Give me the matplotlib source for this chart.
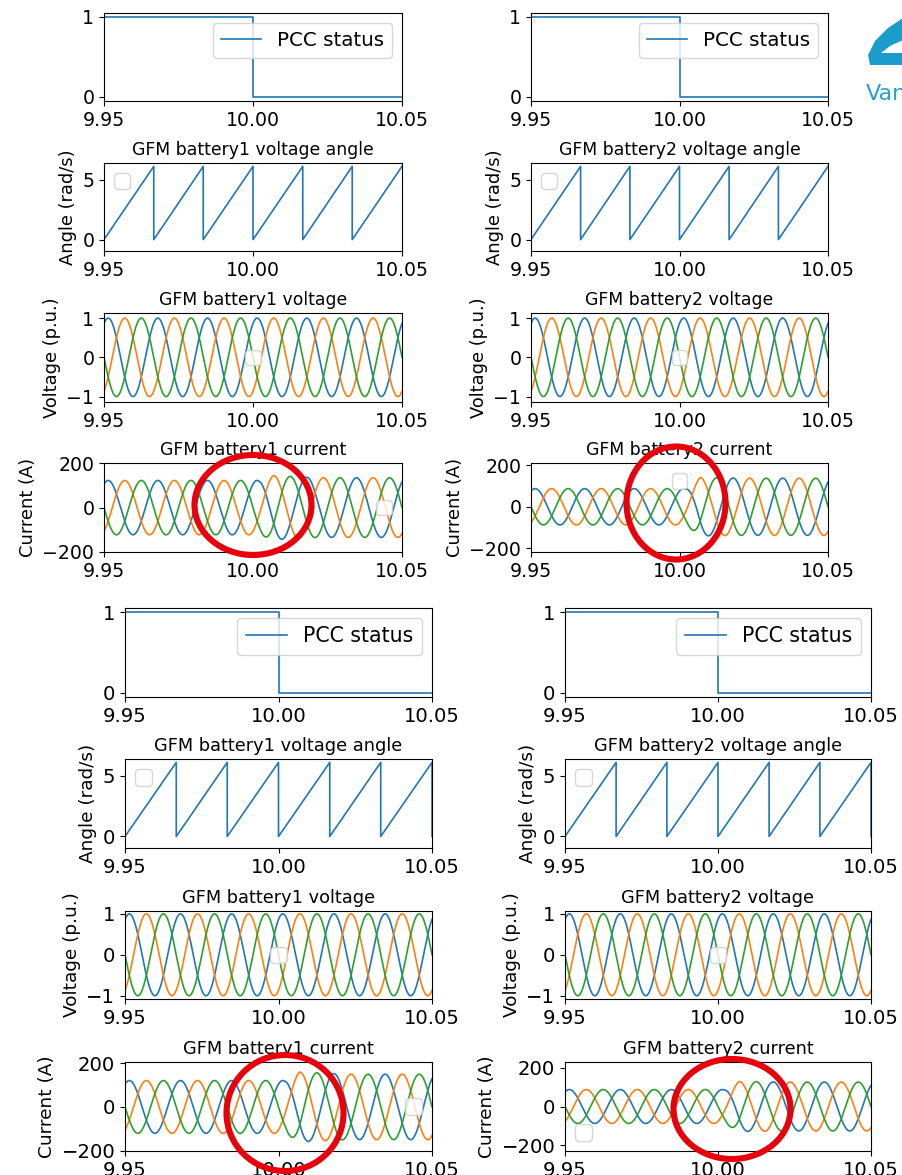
import numpy as np
import matplotlib
matplotlib.use("Agg")
import matplotlib.pyplot as plt
from matplotlib.patches import Ellipse, Polygon
import warnings

warnings.filterwarnings("ignore")

# ---------------- data ----------------
x_limits = [9.95, 10.05]
x_ticks = [9.95, 10.00, 10.05]
x_ticklabels = ["9.95", "10.00", "10.05"]

pcc_t = [9.95, 10.00, 10.00, 10.05]
pcc_status = [1, 1, 0, 0]

# sawtooth voltage angle (vertices)
angle_t_set1 = [9.95, 9.9667, 9.9667, 9.9833, 9.9833, 10.0, 10.0, 10.0167, 10.0167,
                10.0333, 10.0333, 10.05]
angle_v_set1 = [0.0, 6.1, 0.0, 6.1, 0.0, 6.1, 0.0, 6.1, 0.0, 6.1, 0.0, 6.1]
angle_t_set2 = [9.95, 9.9667, 9.9667, 9.9833, 9.9833, 10.0, 10.0, 10.0167, 10.0167,
                10.0333, 10.0333, 10.05, 10.05]
angle_v_set2 = [0.0, 6.1, 0.0, 6.1, 0.0, 6.1, 0.0, 6.1, 0.0, 6.1, 0.0, 6.1, 0.0]

# three-phase waveforms: grid frequency, time of phase-A peak, amplitude envelopes
grid_freq_hz = 60.0
phase_a_peak_t = 9.9514
voltage_amplitude_pu = 1.0
current_env_t = [9.95, 10.002, 10.007, 10.022, 10.05]
current_env_set1_b1 = [123, 123, 145, 135, 135]
current_env_set1_b2 = [87, 87, 140, 137, 137]
current_env_set2_b1 = [121, 121, 160, 150, 150]
current_env_set2_b2 = [88, 88, 130, 127, 127]

titles_b1 = ["GFM battery1 voltage angle", "GFM battery1 voltage", "GFM battery1 current"]
titles_b2 = ["GFM battery2 voltage angle", "GFM battery2 voltage", "GFM battery2 current"]
ylabels = ["Angle (rad/s)", "Voltage (p.u.)", "Current (A)"]

# ---------------- figure ----------------
W, H = 903, 1175
fig = plt.figure(figsize=(W / 100, H / 100), dpi=100)


def ax_at(l, t, r, b):
    return fig.add_axes([l / W, 1 - b / H, (r - l) / W, (b - t) / H])


t = np.linspace(x_limits[0], x_limits[1], 3001)
w = 2 * np.pi * grid_freq_hz
theta = w * (t - phase_a_peak_t)
shifts = [0.0, -2 * np.pi / 3, 2 * np.pi / 3]
colors = ["#1f77b4", "#ff7f0e", "#2ca02c"]
LW = 1.2


def fmt(ax, fs_tick):
    ax.set_xlim(*x_limits)
    ax.set_xticks(x_ticks)
    ax.set_xticklabels(x_ticklabels)
    ax.tick_params(labelsize=fs_tick)


def draw_set(cols, rows, angle_t, angle_v, env_b1, env_b2, ylims_cur, ylim_volt,
             fs_tick, fs_title, fs_ylab, fs_leg, cur_leg_locs):
    for ci, (l, r) in enumerate(cols):
        titles = titles_b1 if ci == 0 else titles_b2
        env = env_b1 if ci == 0 else env_b2
        # PCC status
        ax = ax_at(l, rows[0][0], r, rows[0][1])
        ax.plot(pcc_t, pcc_status, color=colors[0], lw=LW, label="PCC status")
        ax.set_ylim(-0.05, 1.05)
        ax.set_yticks([0, 1])
        fmt(ax, fs_tick)
        ax.legend(loc="upper right", fontsize=fs_leg)
        # angle
        ax = ax_at(l, rows[1][0], r, rows[1][1])
        ax.plot(angle_t, angle_v, color=colors[0], lw=LW)
        ax.set_ylim(-0.95, 6.38)
        ax.set_yticks([0, 5])
        fmt(ax, fs_tick)
        ax.set_title(titles[0], fontsize=fs_title)
        ax.set_ylabel(ylabels[0], fontsize=fs_ylab)
        ax.legend(handles=[], loc="upper left", fontsize=fs_leg)
        # voltage
        ax = ax_at(l, rows[2][0], r, rows[2][1])
        for s, c in zip(shifts, colors):
            ax.plot(t, voltage_amplitude_pu * np.cos(theta + s), color=c, lw=LW)
        ax.set_ylim(*ylim_volt)
        ax.set_yticks([-1, 0, 1])
        fmt(ax, fs_tick)
        ax.set_title(titles[1], fontsize=fs_title)
        ax.set_ylabel(ylabels[1], fontsize=fs_ylab)
        ax.legend(handles=[], loc="center", fontsize=fs_leg)
        # current
        ax = ax_at(l, rows[3][0], r, rows[3][1])
        amp = np.interp(t, current_env_t, env)
        for s, c in zip(shifts, colors):
            ax.plot(t, amp * np.cos(theta + s), color=c, lw=LW)
        ax.set_ylim(*ylims_cur[ci])
        ax.set_yticks([-200, 0, 200])
        fmt(ax, fs_tick)
        ax.set_title(titles[2], fontsize=fs_title)
        ax.set_ylabel(ylabels[2], fontsize=fs_ylab)
        ax.legend(handles=[], loc=cur_leg_locs[ci], fontsize=fs_leg)


# first set (top half)
draw_set(cols=[(104, 402), (531, 828)],
         rows=[(13, 101), (163, 251), (313, 402), (463, 552)],
         angle_t=angle_t_set1, angle_v=angle_v_set1,
         env_b1=current_env_set1_b1, env_b2=current_env_set1_b2,
         ylims_cur=[(-201, 202), (-217, 210)], ylim_volt=(-1.14, 1.13),
         fs_tick=13.6, fs_title=12.4, fs_ylab=12.9, fs_leg=14.3,
         cur_leg_locs=["center right", "upper center"])

# second set (bottom half)
draw_set(cols=[(125, 432), (565, 871)],
         rows=[(608, 697), (759, 848), (911, 999), (1062, 1151)],
         angle_t=angle_t_set2, angle_v=angle_v_set2,
         env_b1=current_env_set2_b1, env_b2=current_env_set2_b2,
         ylims_cur=[(-202, 206), (-231, 231)], ylim_volt=(-1.08, 1.07),
         fs_tick=14.1, fs_title=12.8, fs_ylab=13.3, fs_leg=14.8,
         cur_leg_locs=["center right", "lower left"])

# red highlight ellipses (pixel coordinates -> figure fraction)
ellipses = [(253, 505, 117, 100), (676, 503, 99, 113), (285, 1113, 117, 116), (732, 1109, 117, 100)]
for cx, cy, ew, eh in ellipses:
    fig.patches.append(Ellipse((cx / W, 1 - cy / H), ew / W, eh / H, transform=fig.transFigure,
                               fill=False, edgecolor="#e8000b", lw=4.4, zorder=20))

# partial logo at the top right
logo_pts = [(903, 18), (903, 40), (890, 46), (881, 53), (903, 53), (903, 65), (870, 65),
            (868, 55), (875, 41), (888, 28)]
fig.patches.append(Polygon([(x / W, 1 - y / H) for x, y in logo_pts], closed=True,
                           transform=fig.transFigure, facecolor="#1c9ccb", edgecolor="none"))
fig.text(866 / W, 1 - 100 / H, "Van", color="#2a9fc9", fontsize=16, ha="left", va="baseline")

fig.savefig("out.png", dpi=100)
